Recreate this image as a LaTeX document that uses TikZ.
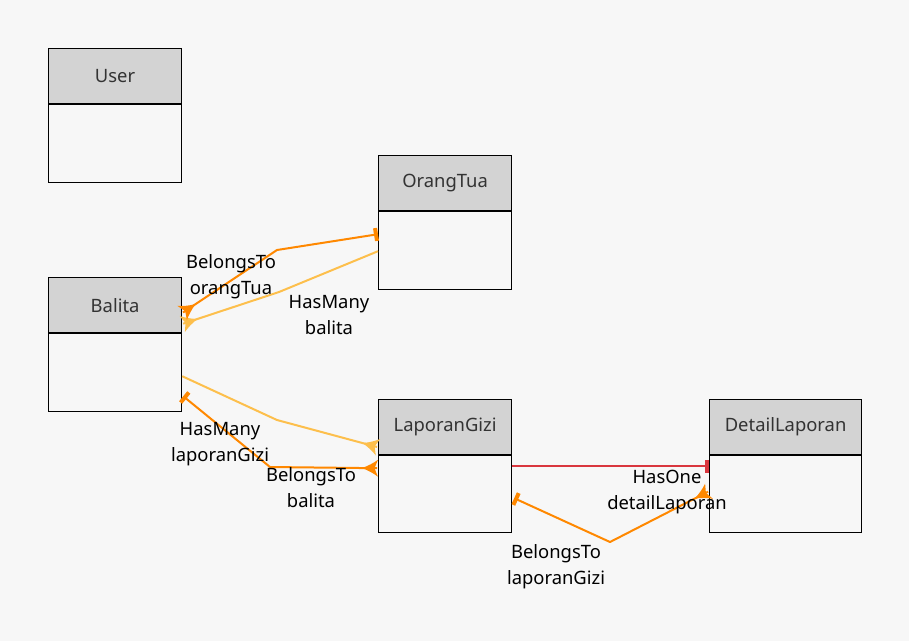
\documentclass[tikz,border=0pt]{standalone}
\usepackage{fontspec}
\setmainfont{Noto Sans}
\usetikzlibrary{arrows.meta,calc}
\definecolor{bg}{HTML}{F7F7F7}
\definecolor{hdr}{HTML}{D3D3D3}
\definecolor{hdrtext}{HTML}{333333}
\definecolor{dorange}{HTML}{FF8800}
\definecolor{lorange}{HTML}{FDBF4C}
\definecolor{relred}{HTML}{D9363E}
\pgfdeclarearrow{
  name=Crow,
  parameters={\the\pgfarrowlength,\the\pgfarrowwidth},
  setup code={
    \pgfarrowssettipend{0pt}
    \pgfarrowssetbackend{-\pgfarrowlength}
    \pgfarrowssetlineend{-1pt}
    \pgfarrowssavethe\pgfarrowlength
    \pgfarrowssavethe\pgfarrowwidth
  },
  drawing code={
    \pgfpathmoveto{\pgfqpoint{-\pgfarrowlength}{0pt}}
    \pgfpathquadraticcurveto{\pgfqpoint{-.42\pgfarrowlength}{.2\pgfarrowwidth}}{\pgfqpoint{0pt}{.5\pgfarrowwidth}}
    \pgfpathlineto{\pgfqpoint{-.22\pgfarrowlength}{0pt}}
    \pgfpathlineto{\pgfqpoint{0pt}{-.5\pgfarrowwidth}}
    \pgfpathquadraticcurveto{\pgfqpoint{-.42\pgfarrowlength}{-.2\pgfarrowwidth}}{\pgfqpoint{-\pgfarrowlength}{0pt}}
    \pgfpathclose
    \pgfusepathqfill
  },
  defaults={length=13pt,width=14pt}
}
\tikzset{
  hdrbox/.style={draw=black, line width=1.2pt, fill=hdr, minimum height=55pt, anchor=north west, inner sep=0pt, text=hdrtext, font=\fontsize{18.4}{22}\selectfont},
  bodybox/.style={draw=black, line width=1.2pt, fill=bg, anchor=north west, inner sep=0pt},
  rel/.style={line width=2pt, line join=round},
  lbl/.style={align=center, font=\fontsize{18.4}{26}\selectfont, text=black, inner sep=0pt},
  crow/.tip={Crow[length=16pt, width=17pt]},
  onebar/.tip={Rectangle[length=4pt, width=13pt]},
}
\begin{document}
\begin{tikzpicture}[x=1pt, y=-1pt]
\fill[bg] (0,0) rectangle (909,641);
\useasboundingbox (0,0) rectangle (909,641);
% entities
\node[hdrbox, minimum width=133pt] (user) at (48,48) {User};
\node[bodybox, minimum width=133pt, minimum height=78pt] (userb) at (user.south west) {};
\node[hdrbox, minimum width=133pt] (orangtua) at (378,155) {OrangTua};
\node[bodybox, minimum width=133pt, minimum height=78pt] (orangtuab) at (orangtua.south west) {};
\node[hdrbox, minimum width=133pt] (balita) at (48,277) {Balita};
\node[bodybox, minimum width=133pt, minimum height=78pt] (balitab) at (balita.south west) {};
\node[hdrbox, minimum width=133pt] (lapgizi) at (378,399) {LaporanGizi};
\node[bodybox, minimum width=133pt, minimum height=77pt] (lapgizib) at (lapgizi.south west) {};
\node[hdrbox, minimum width=152pt] (detail) at (709,399) {DetailLaporan};
\node[bodybox, minimum width=152pt, minimum height=77pt] (detailb) at (detail.south west) {};
% bend points
\coordinate (b1) at (277,250);
\coordinate (b2) at (279,292);
\coordinate (b3) at (277,420);
\coordinate (b4) at (270,467);
\coordinate (b6) at (610,542);
% relations
\draw[rel, lorange, {crow}-] ($(balita.north east)+(0,47)$) -- (b2) -- ($(orangtuab.north west)+(0,40)$);
\draw[rel, dorange, {crow}-{onebar}] ($(balita.north east)+(0,36)$) -- (b1) -- ($(orangtuab.north west)+(0,23)$);
\draw[rel, lorange, -{crow}] ($(balitab.north east)+(0,43)$) -- (b3) -- ($(lapgizib.north west)+(0,-8)$);
\draw[rel, dorange, {onebar}-{crow}] ($(balitab.north east)+(1,63)$) -- (b4) -- ($(lapgizib.north west)+(0,13)$);
\draw[rel, relred, -{onebar}] ($(lapgizib.north east)+(0,11)$) -- ($(detailb.north west)+(0,11)$);
\draw[rel, dorange, {onebar}-{crow}] ($(lapgizib.north east)+(2,43)$) -- (b6) -- ($(detailb.north west)+(0,36)$);
% labels
\node[lbl] (l1) at (231,277) {BelongsTo\\orangTua};
\node[lbl] (l2) at (329,315) {HasMany\\balita};
\node[lbl] (l3) at (220,444) {HasMany\\laporanGizi};
\node[lbl] (l4) at (311,488) {BelongsTo\\balita};
\node[lbl] (l5) at (667,492) {HasOne\\detailLaporan};
\node[lbl] (l6) at (556,567) {BelongsTo\\laporanGizi};
\end{tikzpicture}
\end{document}
